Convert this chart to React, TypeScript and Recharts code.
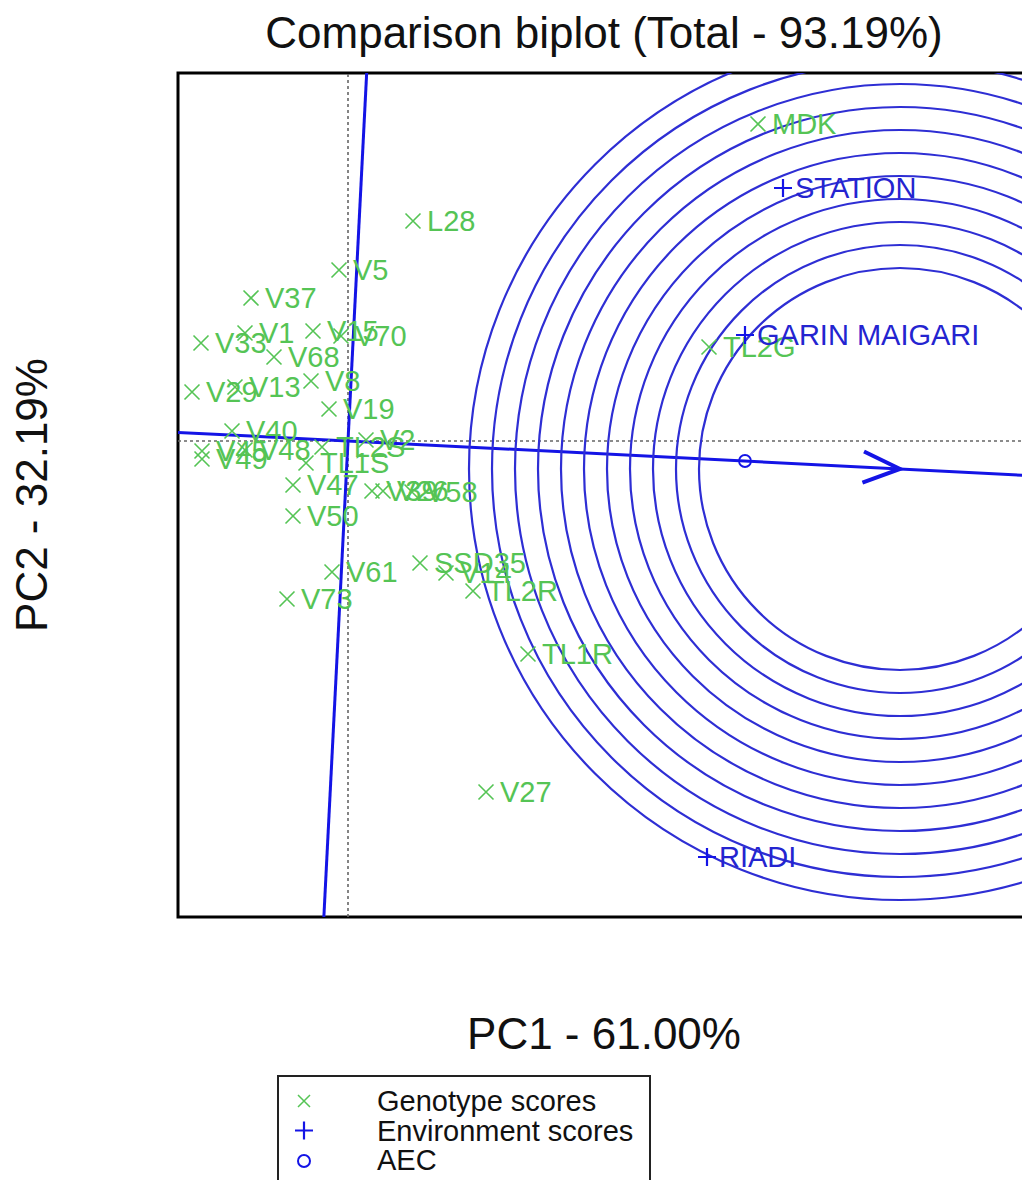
import React from "react";
import {
  Customized,
  Legend,
  ReferenceArea,
  ReferenceLine,
  Scatter,
  ScatterChart,
  XAxis,
  YAxis,
} from "recharts";

// genotype scores (PC1, PC2)
const genotypeNames = [
  "MDK", "L28", "V5", "V37", "V33", "V1", "V15", "V70", "V68", "V29", "V13",
  "V8", "V19", "V40", "V45", "V49", "V48", "TL2S", "V2", "TL1S", "V47", "V50",
  "V39", "V26", "V58", "V61", "V73", "SSD35", "V14", "TL2R", "TL1R", "V27", "TL2G",
];
const genotypePC1 = [
  4.1, 0.65, -0.09, -0.97, -1.47, -1.03, -0.35, -0.07, -0.74, -1.56, -1.13,
  -0.37, -0.19, -1.16, -1.46, -1.46, -1.03, -0.26, 0.18, -0.42, -0.55, -0.55,
  0.24, 0.35, 0.64, -0.16, -0.61, 0.72, 0.98, 1.25, 1.8, 1.38, 3.61,
];
const genotypePC2 = [
  3.17, 2.2, 1.71, 1.43, 0.98, 1.08, 1.1, 1.05, 0.84, 0.49, 0.54,
  0.6, 0.32, 0.1, -0.1, -0.18, -0.09, -0.06, 0.01, -0.22, -0.44, -0.75,
  -0.5, -0.5, -0.51, -1.31, -1.58, -1.22, -1.32, -1.5, -2.13, -3.51, 0.94,
];

// environment scores
const environmentNames = ["STATION", "GARIN MAIGARI", "RIADI"];
const environmentPC1 = [4.35, 3.97, 3.59];
const environmentPC2 = [2.53, 1.06, -4.16];

// average environment and ideal genotype on the AEC
const aecPoint = [3.97, -0.2];
const idealPoint = [5.52, -0.28];
const circleRadii = [2.01, 2.24, 2.47, 2.7, 2.93, 3.16, 3.39, 3.62, 3.85, 4.08, 4.31];

const X_DOMAIN: [number, number] = [-1.7, 6.82];
const Y_DOMAIN: [number, number] = [-4.76, 3.68];

const CHART_W = 1100;
const CHART_H = 1180;
const MARGIN = { top: 73, right: 70, bottom: 263, left: 178 };
const PLOT_W = CHART_W - MARGIN.left - MARGIN.right;
const PLOT_H = CHART_H - MARGIN.top - MARGIN.bottom;
const PX_PER_UNIT = PLOT_W / (X_DOMAIN[1] - X_DOMAIN[0]);

const FONT = '"Liberation Sans", Arial, Helvetica, sans-serif';
const GREEN = "#55c455";
const BLUE = "#1414e6";
const BLUE_TEXT = "#2424d0";
const RING = "#2e2ed4";

const genotypes = genotypeNames.map((name, i) => ({
  name,
  x: genotypePC1[i],
  y: genotypePC2[i],
}));
const environments = environmentNames.map((name, i) => ({
  name,
  x: environmentPC1[i],
  y: environmentPC2[i],
}));
const rings = circleRadii.map((r) => ({ x: idealPoint[0], y: idealPoint[1], r }));
const aecSlope = idealPoint[1] / idealPoint[0];

const GenotypeMark = (props: any) => {
  const { cx, cy, payload } = props;
  const s = 7.5;
  return (
    <g>
      <path
        d={`M${cx - s},${cy - s}L${cx + s},${cy + s}M${cx - s},${cy + s}L${cx + s},${cy - s}`}
        stroke={GREEN}
        strokeWidth={1.6}
      />
      <text x={cx + 14} y={cy} dominantBaseline="central" fill={GREEN} fontSize={29} fontFamily={FONT}>
        {payload.name}
      </text>
    </g>
  );
};

const EnvironmentMark = (props: any) => {
  const { cx, cy, payload } = props;
  const s = 9;
  return (
    <g>
      <path d={`M${cx - s},${cy}L${cx + s},${cy}M${cx},${cy - s}L${cx},${cy + s}`} stroke={BLUE} strokeWidth={2.2} />
      <text x={cx + 12} y={cy} dominantBaseline="central" fill={BLUE_TEXT} fontSize={29} fontFamily={FONT}>
        {payload.name}
      </text>
    </g>
  );
};

const RingMark = (props: any) => {
  const { cx, cy, payload } = props;
  return (
    <circle
      cx={cx}
      cy={cy}
      r={payload.r * PX_PER_UNIT}
      fill="none"
      stroke={RING}
      strokeWidth={2.2}
      clipPath="url(#biplot-clip)"
    />
  );
};

const AecMark = (props: any) => {
  const { cx, cy } = props;
  return <circle cx={cx} cy={cy} r={6} fill="none" stroke={BLUE} strokeWidth={1.8} />;
};

const ArrowHead = (props: any) => {
  const { cx, cy } = props;
  const theta = Math.atan2(-idealPoint[1], idealPoint[0]);
  const len = 40;
  const phi = (23 * Math.PI) / 180;
  const b1x = cx - len * Math.cos(theta - phi);
  const b1y = cy - len * Math.sin(theta - phi);
  const b2x = cx - len * Math.cos(theta + phi);
  const b2y = cy - len * Math.sin(theta + phi);
  return (
    <path
      d={`M${b1x},${b1y}L${cx},${cy}L${b2x},${b2y}`}
      fill="none"
      stroke={BLUE}
      strokeWidth={4}
      strokeLinejoin="miter"
    />
  );
};

const Annotations = () => (
  <g fontFamily={FONT} fill="#111">
    <defs>
      <clipPath id="biplot-clip">
        <rect x={MARGIN.left} y={MARGIN.top} width={PLOT_W} height={PLOT_H} />
      </clipPath>
    </defs>
    <text x={604} y={48} textAnchor="middle" fontSize={44}>
      Comparison biplot (Total - 93.19%)
    </text>
    <text x={604} y={1049} textAnchor="middle" fontSize={44}>
      PC1 - 61.00%
    </text>
    <text transform="translate(47,495) rotate(-90)" textAnchor="middle" fontSize={44}>
      PC2 - 32.19%
    </text>
  </g>
);

const legendItems = [
  { label: "Genotype scores", kind: "x" },
  { label: "Environment scores", kind: "+" },
  { label: "AEC", kind: "o" },
];

const LegendBox = () => (
  <svg width={374} height={120} style={{ display: "block" }}>
    <rect x={1} y={1} width={372} height={200} fill="#fff" stroke="#222" strokeWidth={2} />
    {legendItems.map((it, i) => {
      const cy = 26 + i * 29.5;
      const cx = 27;
      let mark;
      if (it.kind === "x") {
        mark = (
          <path d={`M${cx - 6},${cy - 6}L${cx + 6},${cy + 6}M${cx - 6},${cy + 6}L${cx + 6},${cy - 6}`} stroke={GREEN} strokeWidth={1.5} />
        );
      } else if (it.kind === "+") {
        mark = <path d={`M${cx - 9},${cy}L${cx + 9},${cy}M${cx},${cy - 9}L${cx},${cy + 9}`} stroke={BLUE} strokeWidth={2.2} />;
      } else {
        mark = <circle cx={cx} cy={cy + 1} r={6} fill="none" stroke={BLUE} strokeWidth={2} />;
      }
      return (
        <g key={it.label}>
          {mark}
          <text x={100} y={cy} dominantBaseline="central" fontSize={29} fontFamily={FONT} fill="#111">
            {it.label}
          </text>
        </g>
      );
    })}
  </svg>
);

export default function App() {
  return (
    <div
      style={{
        position: "fixed",
        left: 0,
        top: 0,
        width: 1022,
        height: 1180,
        overflow: "hidden",
        background: "#fff",
      }}
    >
      <ScatterChart width={CHART_W} height={CHART_H} margin={MARGIN}>
        <XAxis type="number" dataKey="x" domain={X_DOMAIN} allowDataOverflow hide />
        <YAxis type="number" dataKey="y" domain={Y_DOMAIN} allowDataOverflow hide />
        <Customized component={Annotations} />
        <ReferenceLine x={0} stroke="#666" strokeWidth={1.6} strokeDasharray="3 3" />
        <ReferenceLine y={0} stroke="#666" strokeWidth={1.6} strokeDasharray="3 3" />
        <Scatter data={rings} shape={RingMark} isAnimationActive={false} />
        <ReferenceLine
          segment={[
            { x: X_DOMAIN[0], y: X_DOMAIN[0] * aecSlope },
            { x: X_DOMAIN[1], y: X_DOMAIN[1] * aecSlope },
          ]}
          stroke={BLUE}
          strokeWidth={3}
          ifOverflow="hidden"
        />
        <ReferenceLine
          segment={[
            { x: -Y_DOMAIN[1] * aecSlope, y: Y_DOMAIN[1] },
            { x: -Y_DOMAIN[0] * aecSlope, y: Y_DOMAIN[0] },
          ]}
          stroke={BLUE}
          strokeWidth={3}
          ifOverflow="hidden"
        />
        <Scatter data={[{ x: idealPoint[0], y: idealPoint[1] }]} shape={ArrowHead} isAnimationActive={false} />
        <Scatter data={[{ x: aecPoint[0], y: aecPoint[1] }]} shape={AecMark} isAnimationActive={false} />
        <Scatter data={genotypes} shape={GenotypeMark} isAnimationActive={false} />
        <Scatter data={environments} shape={EnvironmentMark} isAnimationActive={false} />
        <ReferenceArea
          x1={X_DOMAIN[0]}
          x2={X_DOMAIN[1]}
          y1={Y_DOMAIN[0]}
          y2={Y_DOMAIN[1]}
          fill="none"
          stroke="#000"
          strokeWidth={3}
          ifOverflow="visible"
        />
        <Legend
          verticalAlign="middle"
          layout="horizontal"
          content={LegendBox}
          wrapperStyle={{ position: "absolute", left: 277, top: 1075, width: 374, height: 120 }}
        />
      </ScatterChart>
    </div>
  );
}
